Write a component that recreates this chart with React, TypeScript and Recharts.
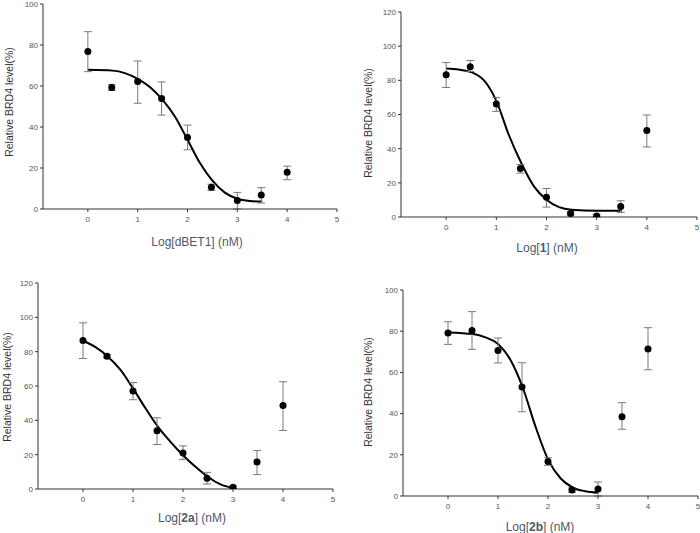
import React from 'react';
import { ComposedChart, Line, Scatter, ErrorBar, XAxis, YAxis } from 'recharts';

// log10 of concentration (nM): 1, 3, 10, 30, 100, 300, 1000, 3000, 10000
const logDose = [0, 0.48, 1, 1.48, 2, 2.48, 3, 3.48, 4];
const xTicks = [0, 1, 2, 3, 4, 5];
const yTicks100 = [0, 20, 40, 60, 80, 100];
const yTicks120 = [0, 20, 40, 60, 80, 100, 120];

// dBET1
const dbet1Mean = [76.8, 59.3, 62.2, 53.9, 34.9, 10.6, 4.1, 6.8, 17.9];
const dbet1ErrHi = [9.7, 1.5, 10, 8.1, 6, 1.5, 4, 3.6, 3];
const dbet1ErrLo = [9.8, 1.5, 10.6, 8.1, 6, 1.5, 4.1, 3.9, 3.6];
const dbet1FitX = [0, 0.5, 1, 1.25, 1.5, 1.75, 2, 2.25, 2.5, 2.75, 3, 3.25, 3.5];
const dbet1FitY = [67.9, 67.5, 63.5, 59.4, 53.2, 45, 33.8, 22.4, 13.8, 8, 5, 3.9, 3.6];

// compound 1
const c1Mean = [83.2, 87.9, 66.1, 28.4, 11.5, 2.1, 0.6, 6.2, 50.6];
const c1ErrHi = [7.2, 3.7, 3.9, 2.3, 5.2, 1, 0.8, 3.3, 9.1];
const c1ErrLo = [7.4, 2.7, 4.3, 2.7, 5.7, 1, 0.6, 3.5, 9.6];
const c1FitX = [0, 0.25, 0.5, 0.75, 1, 1.25, 1.5, 1.75, 2, 2.25, 2.5, 3, 3.5];
const c1FitY = [86.9, 86.3, 84.8, 80.1, 68, 48, 31.5, 17.9, 10.1, 5.8, 4.3, 3.7, 3.7];

// compound 2a
const c2aMean = [86.5, 77.3, 57.1, 33.9, 21.0, 6.2, 1.0, 15.8, 48.7];
const c2aErrHi = [10.3, 1, 4.9, 7.6, 4.1, 3.5, 0.8, 6.6, 13.8];
const c2aErrLo = [10.5, 1, 5.1, 8, 3.9, 3.3, 0.8, 7.4, 14.6];
const c2aFitX = [0, 0.25, 0.5, 0.75, 1, 1.25, 1.5, 1.75, 2, 2.25, 2.5, 2.75, 3];
const c2aFitY = [86.5, 82.6, 77.1, 69.4, 58.6, 47, 36.2, 27.5, 19.7, 12.9, 7, 2.7, 0.6];

// compound 2b
const c2bMean = [79.1, 80.4, 70.6, 52.9, 16.8, 2.9, 3.4, 38.5, 71.4];
const c2bErrHi = [5.5, 9.1, 6.1, 11.8, 1.8, 1, 3.4, 6.8, 10.3];
const c2bErrLo = [5.5, 9.2, 6, 12, 1.9, 1.1, 3.4, 6.1, 10.1];
const c2bFitX = [0, 0.5, 0.75, 1, 1.25, 1.5, 1.75, 2, 2.25, 2.5, 2.75, 3];
const c2bFitY = [79.4, 78.6, 77, 73.8, 66, 52.3, 33.7, 17.8, 8.6, 4, 2.3, 1.6];

const FONT = '"Liberation Sans", Arial, sans-serif';
const AXIS = '#333';

type PanelProps = {
  left: number;
  top: number;
  width: number;
  height: number;
  margin: { top: number; right: number; bottom: number; left: number };
  yAxisWidth: number;
  yMax: number;
  yTicks: number[];
  mean: number[];
  errHi: number[];
  errLo: number[];
  fitX: number[];
  fitY: number[];
  compound: string;
  bold: boolean;
  titleX: number;
  titleY: number;
  yLabelX: number;
  yLabelY: number;
};

const Dot = (p: any) => <circle cx={p.cx} cy={p.cy} r={3.5} fill="#000" />;

function Panel(p: PanelProps) {
  const points = logDose.map((x, i) => ({ x, y: p.mean[i], err: [p.errLo[i], p.errHi[i]] }));
  const fit = p.fitX.map((x, i) => ({ x, y: p.fitY[i] }));
  return (
    <div style={{ position: 'absolute', left: p.left, top: p.top, width: p.width, height: p.height }}>
      <ComposedChart width={p.width} height={p.height} margin={p.margin}>
        <XAxis
          dataKey="x"
          type="number"
          domain={[-0.9, 5]}
          allowDataOverflow
          ticks={xTicks}
          tickSize={3}
          tickMargin={4}
          height={20}
          stroke={AXIS}
          tick={{ fontSize: 8, fill: '#555', fontFamily: FONT }}
        />
        <YAxis
          dataKey="y"
          type="number"
          domain={[0, p.yMax]}
          allowDataOverflow
          ticks={p.yTicks}
          width={p.yAxisWidth}
          tickSize={3}
          tickMargin={2}
          stroke={AXIS}
          tick={{ fontSize: 8, fill: '#555', fontFamily: FONT }}
        />
        <Line
          data={fit}
          dataKey="y"
          type="monotone"
          dot={false}
          stroke="#000"
          strokeWidth={2}
          isAnimationActive={false}
        />
        <Scatter data={points} dataKey="y" shape={Dot} isAnimationActive={false}>
          <ErrorBar dataKey="err" direction="y" width={4} stroke="#7a7a7a" strokeWidth={1} />
        </Scatter>
      </ComposedChart>
      <svg
        width={p.width}
        height={p.height}
        style={{ position: 'absolute', left: 0, top: 0, pointerEvents: 'none' }}
      >
        <text
          x={p.titleX}
          y={p.titleY}
          textAnchor="middle"
          fontSize={12}
          fill="#4a5870"
          fontFamily={FONT}
        >
          Log[
          <tspan fontWeight={p.bold ? 'bold' : 'normal'}>{p.compound}</tspan>] (nM)
        </text>
        <text
          x={p.yLabelX}
          y={p.yLabelY}
          transform={`rotate(-90 ${p.yLabelX} ${p.yLabelY})`}
          textAnchor="middle"
          dominantBaseline="central"
          fontSize={10.5}
          fill="#333"
          fontFamily={FONT}
        >
          Relative BRD4 level(%)
        </text>
      </svg>
    </div>
  );
}

export default function App() {
  return (
    <div style={{ position: 'fixed', left: 0, top: 0, width: 700, height: 533, background: '#fff' }}>
      <Panel
        left={0}
        top={0}
        width={350}
        height={260}
        margin={{ top: 4, right: 13, bottom: 31, left: 0 }}
        yAxisWidth={43}
        yMax={100}
        yTicks={yTicks100}
        mean={dbet1Mean}
        errHi={dbet1ErrHi}
        errLo={dbet1ErrLo}
        fitX={dbet1FitX}
        fitY={dbet1FitY}
        compound="dBET1"
        bold={false}
        titleX={197}
        titleY={246}
        yLabelX={9}
        yLabelY={102}
      />
      <Panel
        left={350}
        top={0}
        width={350}
        height={260}
        margin={{ top: 12, right: 3, bottom: 23, left: 0 }}
        yAxisWidth={51}
        yMax={120}
        yTicks={yTicks120}
        mean={c1Mean}
        errHi={c1ErrHi}
        errLo={c1ErrLo}
        fitX={c1FitX}
        fitY={c1FitY}
        compound="1"
        bold={true}
        titleX={197}
        titleY={252}
        yLabelX={18}
        yLabelY={123}
      />
      <Panel
        left={0}
        top={260}
        width={350}
        height={273}
        margin={{ top: 23, right: 17, bottom: 24, left: 0 }}
        yAxisWidth={38}
        yMax={120}
        yTicks={yTicks120}
        mean={c2aMean}
        errHi={c2aErrHi}
        errLo={c2aErrLo}
        fitX={c2aFitX}
        fitY={c2aFitY}
        compound="2a"
        bold={true}
        titleX={192}
        titleY={262}
        yLabelX={7}
        yLabelY={127}
      />
      <Panel
        left={350}
        top={260}
        width={350}
        height={273}
        margin={{ top: 30, right: 2, bottom: 17, left: 0 }}
        yAxisWidth={53}
        yMax={100}
        yTicks={yTicks100}
        mean={c2bMean}
        errHi={c2bErrHi}
        errLo={c2bErrLo}
        fitX={c2bFitX}
        fitY={c2bFitY}
        compound="2b"
        bold={true}
        titleX={190}
        titleY={271}
        yLabelX={18}
        yLabelY={132}
      />
    </div>
  );
}
